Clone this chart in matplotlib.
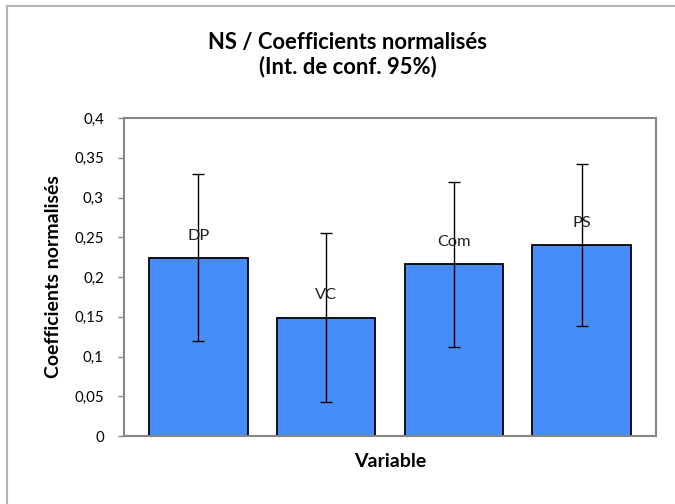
import numpy as np
import matplotlib.pyplot as plt
from matplotlib.lines import Line2D

plt.rcParams['font.family'] = ['Lato', 'DejaVu Sans']

# data
variables = ["DP", "VC", "Com", "PS"]
coefs = [0.224, 0.149, 0.216, 0.240]
conf_int = [0.105, 0.106, 0.104, 0.102]
yticks = [0, 0.05, 0.1, 0.15, 0.2, 0.25, 0.3, 0.35, 0.4]
ytick_labels = ["0", "0,05", "0,1", "0,15", "0,2", "0,25", "0,3", "0,35", "0,4"]

fig = plt.figure(figsize=(6.75, 5.04), dpi=100)
ax = fig.add_axes([124 / 675, 1 - 436 / 504, 532 / 675, 318 / 504])

# light grey chart-area border (left and top visible)
fig.add_artist(Line2D([7 / 675, 7 / 675], [0, 1 - 6 / 504], color="#b4b4b4", lw=1.5))
fig.add_artist(Line2D([7 / 675, 1], [1 - 6 / 504, 1 - 6 / 504], color="#b4b4b4", lw=1.5))

x = np.arange(len(variables))
ax.bar(x, coefs, width=0.77, color="#478dfa", edgecolor="black", linewidth=1.3, zorder=2)
ax.errorbar(x, coefs, yerr=conf_int, fmt="none", ecolor="black", elinewidth=1,
            capsize=4.5, capthick=1, zorder=3)

for xi, v, name in zip(x, coefs, variables):
    ax.annotate(name, (xi, v), xytext=(0, 16), textcoords="offset points",
                ha="center", va="center", fontsize=11.8, color="#202020")

ax.set_xlim(-0.582, 3.582)
ax.set_ylim(0, 0.4)
ax.set_yticks(yticks)
ax.set_yticklabels(ytick_labels, fontsize=10.8)
ax.set_xticks([])
ax.tick_params(axis="y", direction="out", length=4.5, width=1, color="#868686", pad=10)

for s in ax.spines.values():
    s.set_color("#868686")
    s.set_linewidth(1.5)

ax.set_ylabel("Coefficients normalisés", fontsize=14, fontweight="bold", va="center")
ax.yaxis.set_label_coords(-0.1316, 0.5)
ax.set_xlabel("Variable", fontsize=14, fontweight="bold", va="center")
ax.xaxis.set_label_coords(0.5, -0.079)

fig.text(348 / 675, 1 - 43 / 504, "NS / Coefficients normalisés",
         ha="center", va="center", fontsize=15.8, fontweight="bold")
fig.text(348 / 675, 1 - 67 / 504, "(Int. de conf. 95%)",
         ha="center", va="center", fontsize=15.8, fontweight="bold")

fig.savefig("out.png", dpi=100)
